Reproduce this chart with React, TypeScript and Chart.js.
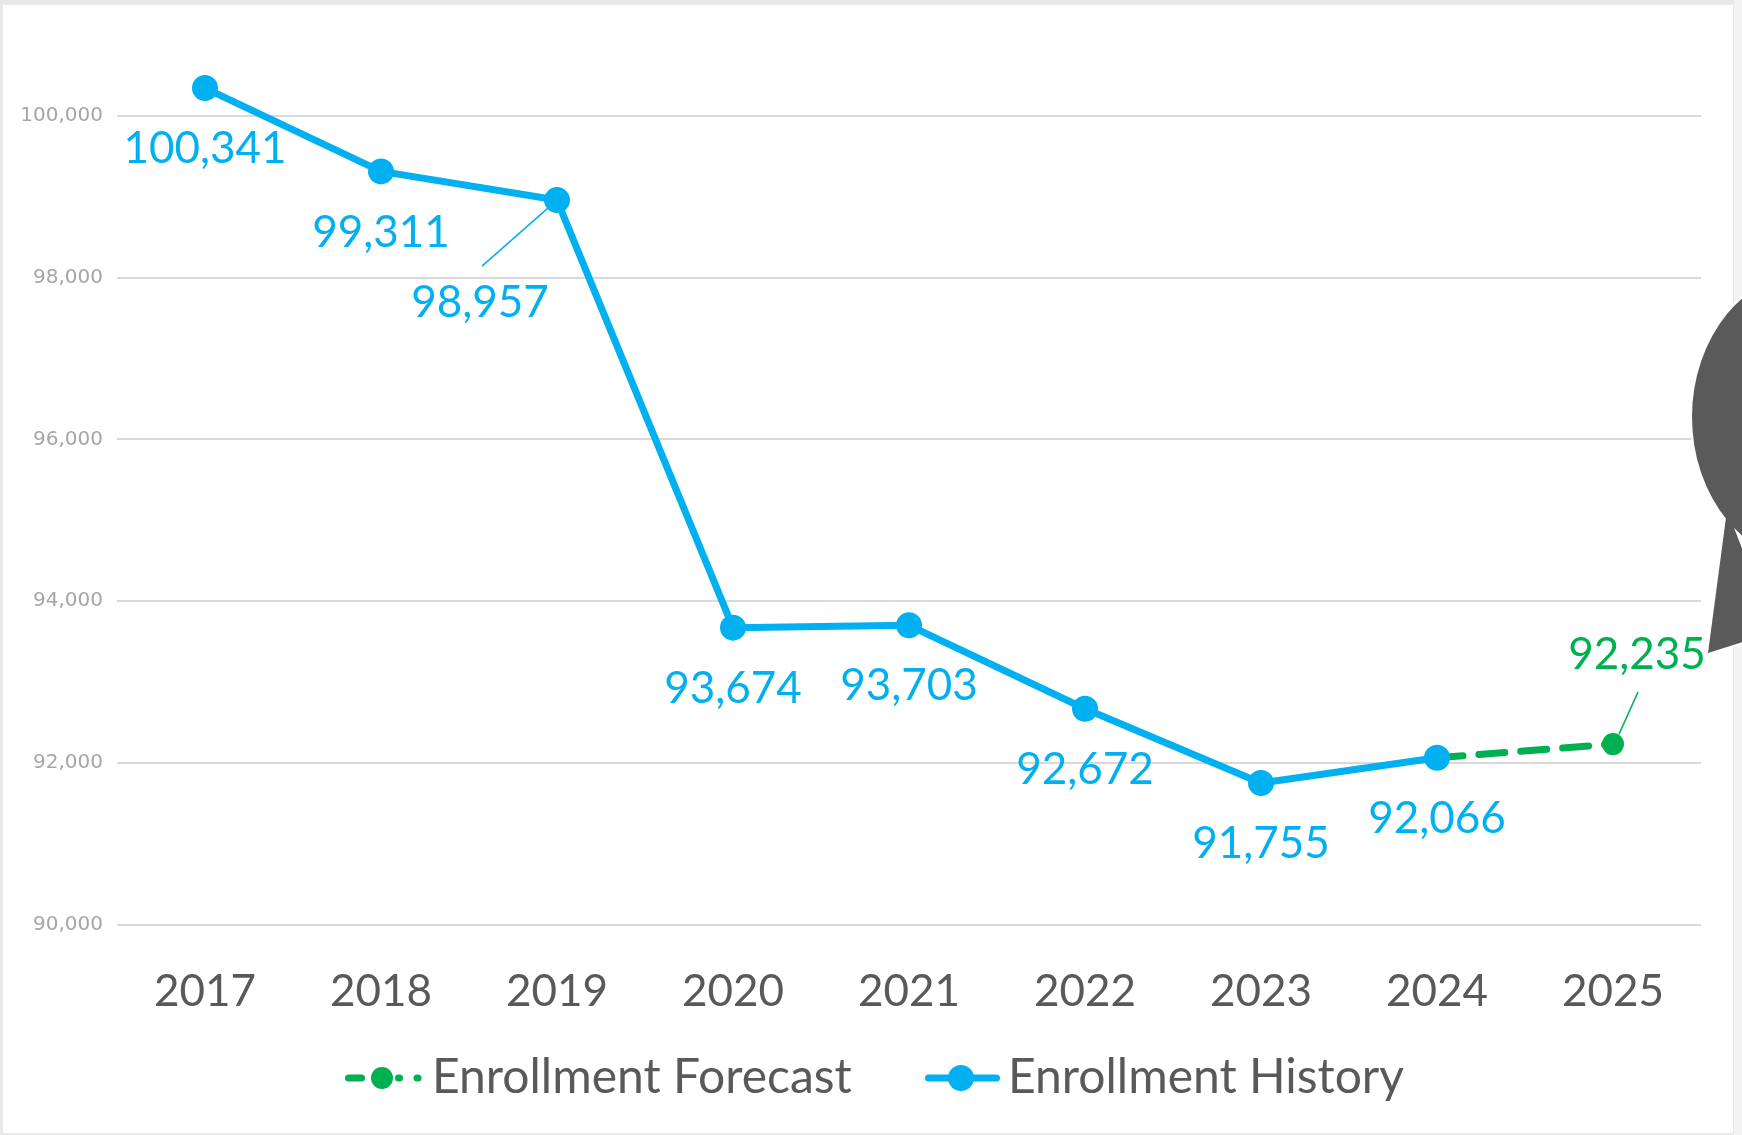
import React, { useEffect, useRef } from "react";
import { Chart, registerables } from "chart.js";

Chart.register(...registerables);

// ---------- data ----------
const years = ["2017", "2018", "2019", "2020", "2021", "2022", "2023", "2024", "2025"];
const historyValues = [100341, 99311, 98957, 93674, 93703, 92672, 91755, 92066, null];
const forecastValues = [null, null, null, null, null, null, null, 92066, 92235];
const yTickValues = [90000, 92000, 94000, 96000, 98000, 100000];
const seriesNames = ["Enrollment Forecast", "Enrollment History"];

// ---------- styles ----------
const W = 1742;
const H = 1135;
const BLUE = "#00b0f0";
const GREEN = "#00b050";
const TEXT_GRAY = "#595959";
const FONT = "Lato, 'Open Sans', sans-serif";
const AXIS_FONT = 44;
const LABEL_FONT = 44;
const LEGEND_FONT = 48;
const ICON_H = 40;
const CHART_TOP = 59;
const CHART_BOTTOM = 925;
const LEGEND_CENTER_Y = 1078;
const X_LABEL_CENTER_Y = 992;

// label placement relative to the point (dx, dy) and optional leader line
const defaultLabelOffset = { dx: 0, dy: 61 };
const specialLabelOffsets: Record<string, { dx: number; dy: number; leader?: number[] }> = {
  "1-2": { dx: -77, dy: 103, leader: [-75, 66, -8, 7] },
  "0-8": { dx: 24, dy: -89, leader: [25, -52, 6, -10] },
};

// icon drawn so that its right edge is where the legend text starts (offsets are relative to that edge)
function makeIcon(kind: "forecast" | "history", iw: number): HTMLCanvasElement {
  const c = document.createElement("canvas");
  c.width = Math.max(1, Math.round(iw));
  c.height = ICON_H;
  const ctx = c.getContext("2d")!;
  const cy = ICON_H / 2;
  const R = c.width;
  ctx.lineCap = "round";
  ctx.lineWidth = 7;
  const seg = (a: number, b: number) => {
    ctx.beginPath();
    ctx.moveTo(R + a, cy);
    ctx.lineTo(R + b, cy);
    ctx.stroke();
  };
  if (kind === "forecast") {
    ctx.strokeStyle = GREEN;
    ctx.fillStyle = GREEN;
    seg(-83.5, -70.5);
    seg(-33.5, -32.5);
    seg(-15, -14);
    ctx.beginPath();
    ctx.arc(R - 50, cy, 11, 0, Math.PI * 2);
    ctx.fill();
  } else {
    ctx.strokeStyle = BLUE;
    ctx.fillStyle = BLUE;
    seg(-79.5, -11.5);
    ctx.beginPath();
    ctx.arc(R - 47, cy, 13, 0, Math.PI * 2);
    ctx.fill();
  }
  return c;
}

const framePlugin = {
  id: "frame",
  beforeDraw(chart: any) {
    const ctx = chart.ctx;
    ctx.save();
    ctx.fillStyle = "#e8e8e8";
    ctx.fillRect(0, 0, W, H);
    ctx.fillStyle = "#ffffff";
    ctx.fillRect(3, 5, 1730, 1128);
    ctx.fillStyle = "#f3f3f3";
    ctx.fillRect(1734, 0, 8, H);
    ctx.restore();
  },
};

const dataLabelPlugin = {
  id: "dataLabels",
  afterDatasetsDraw(chart: any) {
    const ctx = chart.ctx;
    ctx.save();
    ctx.font = `${LABEL_FONT}px ${FONT}`;
    ctx.textAlign = "center";
    ctx.textBaseline = "middle";
    chart.data.datasets.forEach((ds: any, di: number) => {
      const meta = chart.getDatasetMeta(di);
      ds.data.forEach((v: number | null, i: number) => {
        if (v == null) return;
        if (di === 0 && historyValues[i] != null) return;
        const pt = meta.data[i];
        const sp = specialLabelOffsets[`${di}-${i}`];
        const off = sp || defaultLabelOffset;
        const color = di === 0 ? GREEN : BLUE;
        if (sp && sp.leader) {
          ctx.strokeStyle = color;
          ctx.lineWidth = 1.5;
          ctx.beginPath();
          ctx.moveTo(pt.x + sp.leader[0], pt.y + sp.leader[1]);
          ctx.lineTo(pt.x + sp.leader[2], pt.y + sp.leader[3]);
          ctx.stroke();
        }
        ctx.fillStyle = color;
        ctx.fillText(v.toLocaleString("en-US"), pt.x + off.dx, pt.y + off.dy);
      });
    });
    ctx.restore();
  },
};

const bubblePlugin = {
  id: "bubble",
  afterDraw(chart: any) {
    const ctx = chart.ctx;
    ctx.save();
    const pathEllipse = () => {
      ctx.beginPath();
      ctx.ellipse(1812, 417, 120, 146, 0, 0, Math.PI * 2);
    };
    const pathTail = () => {
      ctx.beginPath();
      ctx.moveTo(1727, 510);
      ctx.lineTo(1708, 653);
      ctx.lineTo(1775, 632);
      ctx.closePath();
    };
    ctx.strokeStyle = "#ffffff";
    ctx.lineWidth = 4;
    pathEllipse();
    ctx.stroke();
    pathTail();
    ctx.stroke();
    ctx.fillStyle = "#5a5a5a";
    pathEllipse();
    ctx.fill();
    pathTail();
    ctx.fill();
    ctx.restore();
  },
};

export default function App() {
  const ref = useRef<HTMLCanvasElement | null>(null);

  useEffect(() => {
    if (!ref.current) return;

    // legend geometry derived from the measured text widths
    const mctx = document.createElement("canvas").getContext("2d")!;
    mctx.font = `${LEGEND_FONT}px ${FONT}`;
    const tw1 = mctx.measureText(seriesNames[0]).width;
    const tw2 = mctx.measureText(seriesNames[1]).width;
    const bw = Math.max(10, tw2 - 261 - LEGEND_FONT / 2);
    const pad = Math.max(0, 576 - bw - LEGEND_FONT / 2 - tw1);
    const iconW = bw + LEGEND_FONT;
    const legendTop = LEGEND_CENTER_Y - pad - LEGEND_FONT / 2;
    const legendHeight = LEGEND_FONT + pad + 10;
    const padBottom = H - (legendTop + legendHeight);
    const xAxisHeight = legendTop - CHART_BOTTOM;
    const xPad = X_LABEL_CENTER_Y - CHART_BOTTOM - AXIS_FONT / 2;

    const icons = [makeIcon("forecast", iconW), makeIcon("history", iconW)];
    const chart = new Chart(ref.current, {
      type: "line",
      data: {
        labels: years,
        datasets: [
          {
            label: seriesNames[0],
            data: forecastValues,
            borderColor: GREEN,
            backgroundColor: GREEN,
            borderWidth: 7,
            borderDash: [26, 16],
            borderCapStyle: "round",
            pointRadius: 11,
            pointHoverRadius: 11,
            pointBackgroundColor: GREEN,
            pointBorderWidth: 0,
            tension: 0,
            order: 2,
          },
          {
            label: seriesNames[1],
            data: historyValues,
            borderColor: BLUE,
            backgroundColor: BLUE,
            borderWidth: 7,
            borderJoinStyle: "round",
            pointRadius: 13,
            pointHoverRadius: 13,
            pointBackgroundColor: BLUE,
            pointBorderWidth: 0,
            tension: 0,
            order: 1,
          },
        ],
      },
      options: {
        animation: false,
        responsive: false,
        devicePixelRatio: 1,
        events: [],
        layout: { padding: { left: 0, right: 41, top: CHART_TOP, bottom: padBottom } },
        scales: {
          x: {
            offset: true,
            grid: { display: false, drawTicks: false },
            border: { display: false },
            ticks: {
              color: TEXT_GRAY,
              font: { family: FONT, size: AXIS_FONT, lineHeight: 1 },
              padding: xPad,
              maxRotation: 0,
              autoSkip: false,
            },
            afterFit: (scale: any) => {
              scale.height = xAxisHeight;
            },
          },
          y: {
            min: 90000,
            max: 100700,
            grid: { color: "#d9d9d9", lineWidth: 2, drawTicks: false },
            border: { display: false },
            ticks: {
              color: "#a6a6a6",
              font: { family: "'DejaVu Sans', sans-serif", size: 20 },
              padding: 14,
              includeBounds: false,
              callback: (v: any) => Number(v).toLocaleString("en-US"),
            },
            afterBuildTicks: (scale: any) => {
              scale.ticks = yTickValues.map((v) => ({ value: v }));
            },
            afterFit: (scale: any) => {
              scale.width = 117;
            },
          },
        },
        plugins: {
          tooltip: { enabled: false },
          legend: {
            position: "bottom",
            labels: {
              usePointStyle: true,
              pointStyleWidth: bw,
              padding: pad,
              color: TEXT_GRAY,
              font: { family: FONT, size: LEGEND_FONT },
              generateLabels: () =>
                seriesNames.map((name, i) => ({
                  text: name,
                  pointStyle: icons[i] as any,
                  datasetIndex: i,
                  fillStyle: "rgba(0,0,0,0)",
                  strokeStyle: "rgba(0,0,0,0)",
                  lineWidth: 0,
                  hidden: false,
                  fontColor: TEXT_GRAY,
                })),
            },
          },
        },
      } as any,
      plugins: [framePlugin, dataLabelPlugin, bubblePlugin],
    });
    return () => chart.destroy();
  }, []);

  return (
    <div style={{ position: "fixed", left: 0, top: 0, width: W, height: H, background: "#fff" }}>
      <canvas ref={ref} width={W} height={H} style={{ display: "block", width: W, height: H }} />
    </div>
  );
}
